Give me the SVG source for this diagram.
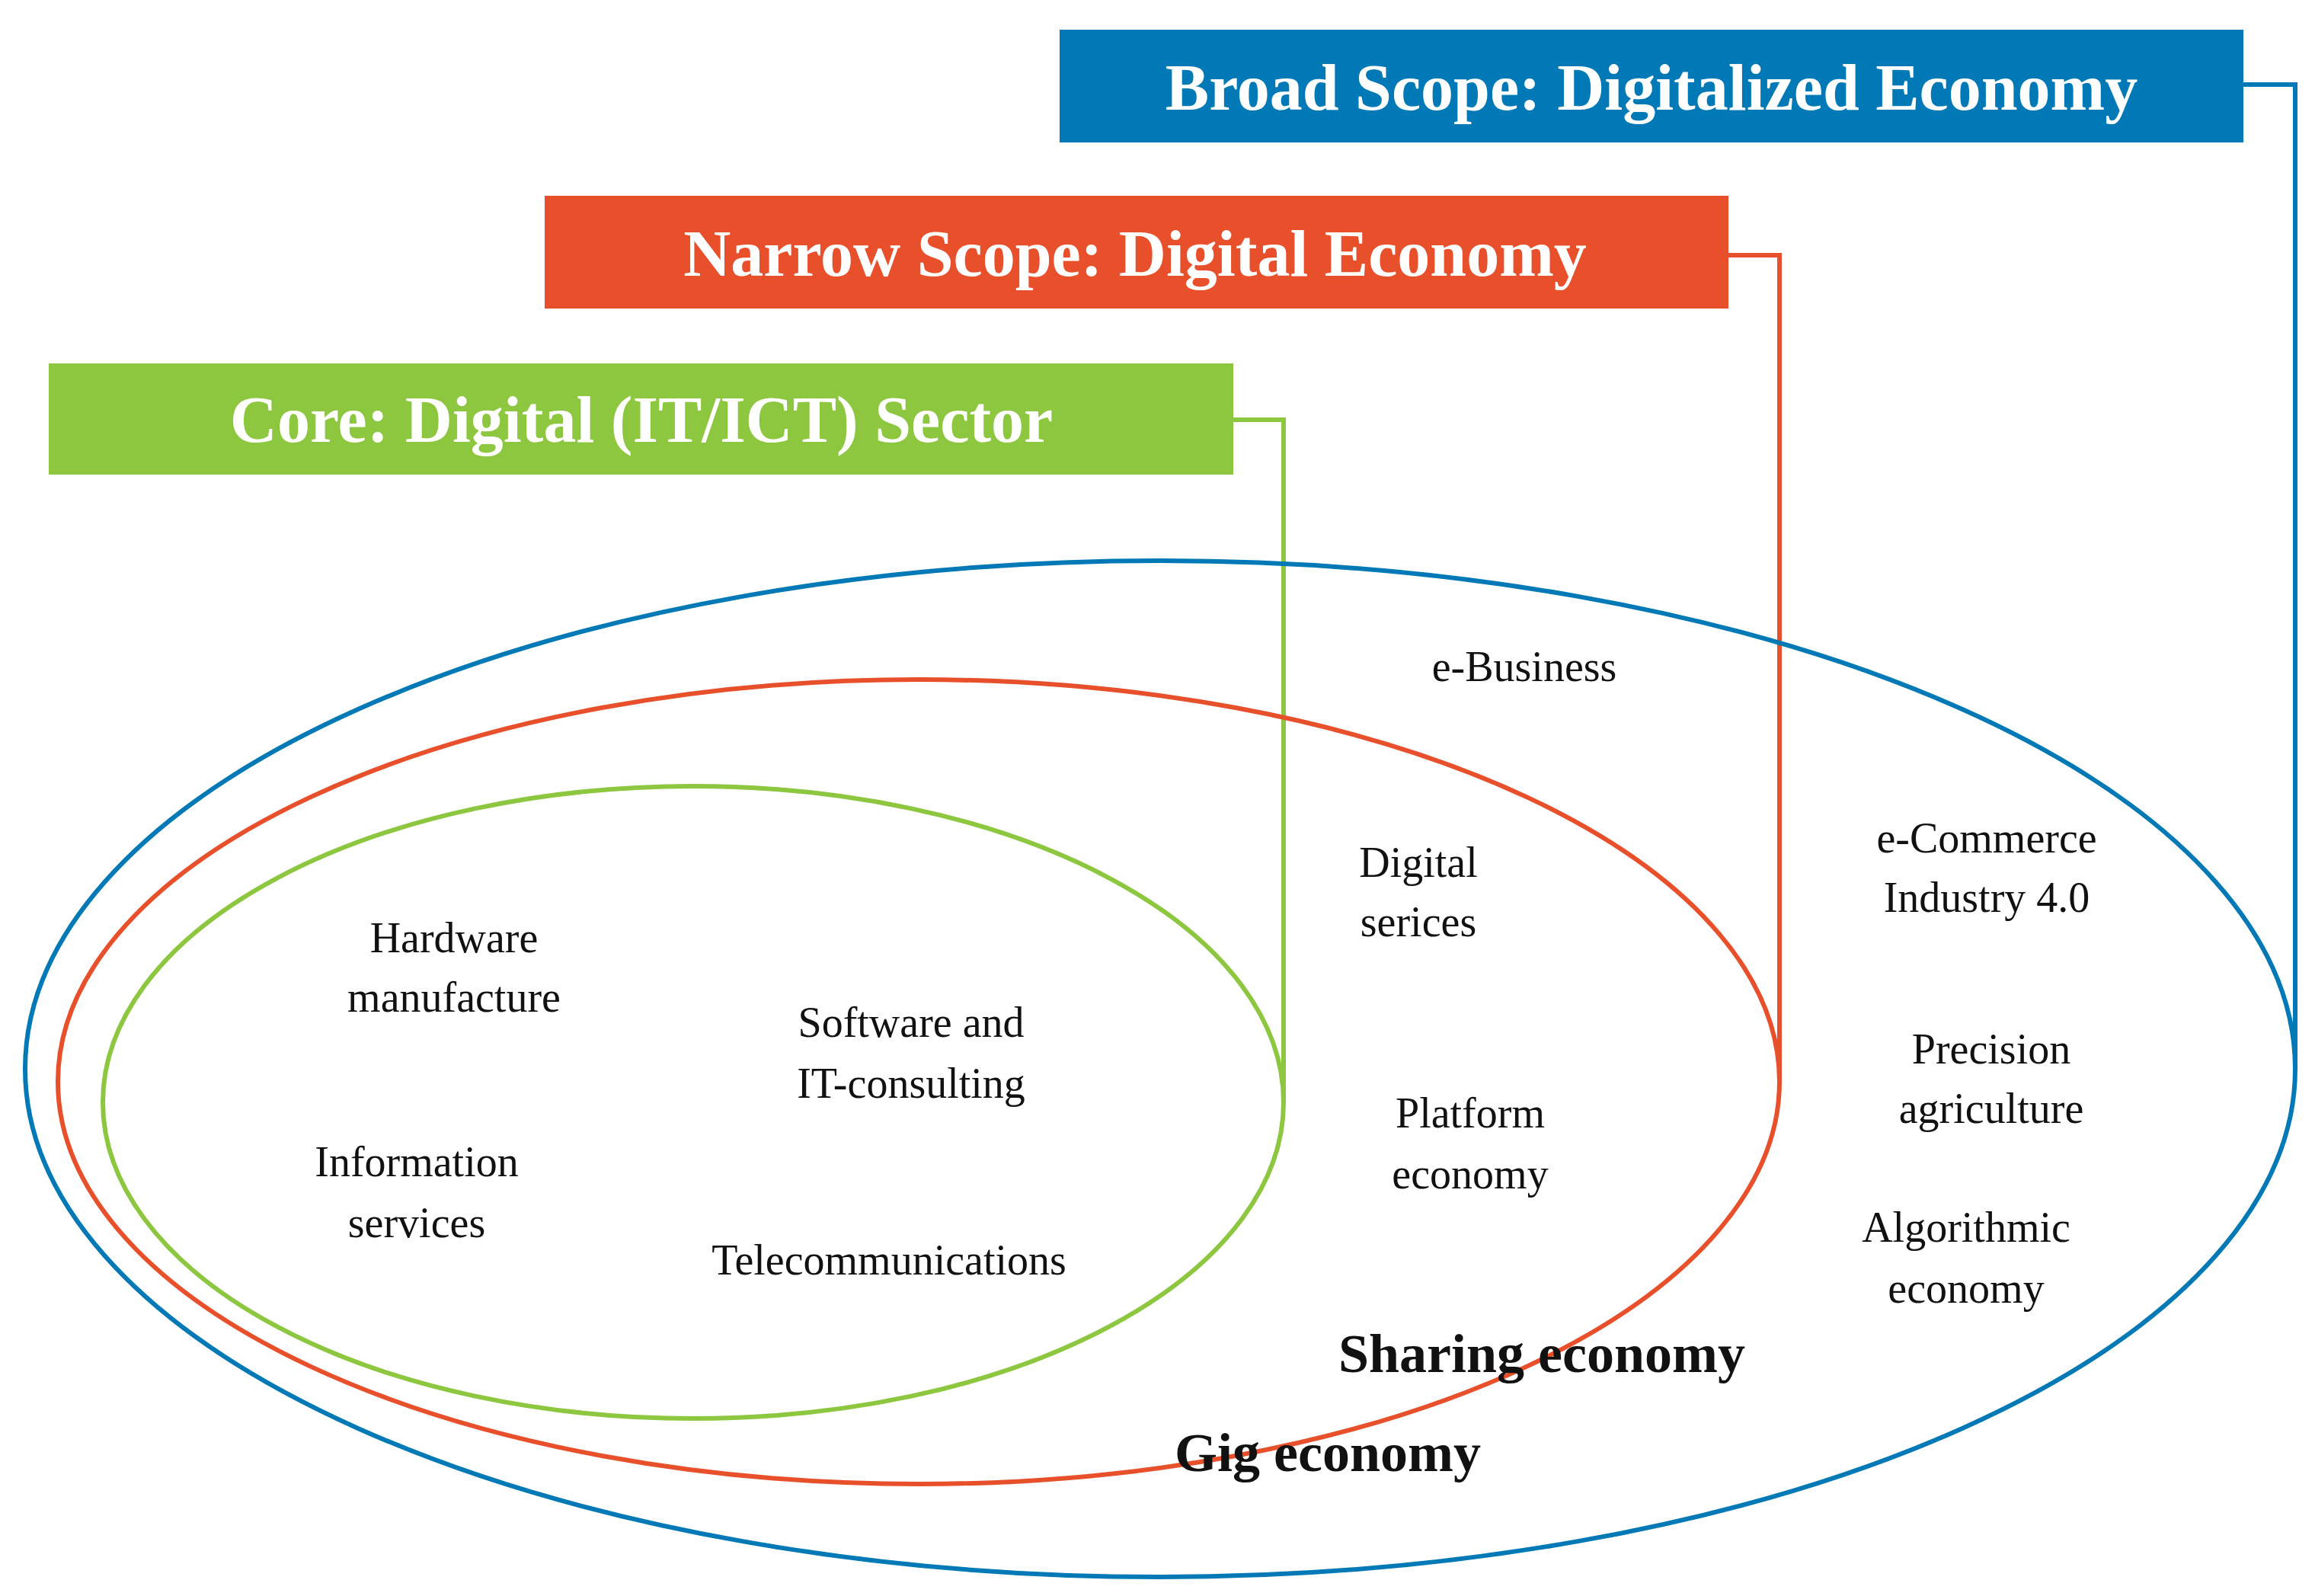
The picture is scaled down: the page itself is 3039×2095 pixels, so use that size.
<svg xmlns="http://www.w3.org/2000/svg" width="3039" height="2095" viewBox="0 0 3039 2095">
<style>
.t{font-family:"Liberation Serif","DejaVu Serif",serif;font-size:56px;fill:#111;text-anchor:middle;dominant-baseline:central}
.b{font-family:"Liberation Serif","DejaVu Serif",serif;font-size:72px;font-weight:bold;fill:#111;text-anchor:middle;dominant-baseline:central}
.h{font-family:"Liberation Serif","DejaVu Serif",serif;font-size:86px;font-weight:bold;fill:#fff;text-anchor:middle;dominant-baseline:central}
.l{fill:none;stroke-width:6}
</style>
<rect width="3039" height="2095" fill="#fff"/>
<g id="connectors">
<polyline class="l" stroke="#0079b6" points="2945,111 3013,111 3013,1403"/>
<polyline class="l" stroke="#e8502b" points="2269,335 2336,335 2336,1418"/>
<polyline class="l" stroke="#8dc63f" points="1619,551 1685,551 1685,1445"/>
</g>
<g id="broad">
<ellipse class="l" stroke="#0079b6" cx="1523" cy="1403" rx="1490" ry="667"/>
<rect x="1391" y="39" width="1554" height="148" fill="#0079b6"/>
<text class="h" x="2168" y="115">Broad Scope: Digitalized Economy</text>
</g>
<g id="narrow">
<ellipse class="l" stroke="#e8502b" cx="1206" cy="1420" rx="1130" ry="528"/>
<rect x="715" y="257" width="1554" height="148" fill="#e8502b"/>
<text class="h" x="1490" y="333">Narrow Scope: Digital Economy</text>
</g>
<g id="core">
<ellipse class="l" stroke="#8dc63f" cx="910" cy="1447" rx="775" ry="415"/>
<rect x="64" y="477" width="1555" height="146" fill="#8dc63f"/>
<text class="h" x="842" y="551">Core: Digital (IT/ICT) Sector</text>
</g>
<g id="labels">
<text class="t" x="2001" y="875">e-Business</text>
<text class="t" x="1862" y="1132">Digital</text>
<text class="t" x="1862" y="1210">serices</text>
<text class="t" x="2608" y="1100">e-Commerce</text>
<text class="t" x="2608" y="1178">Industry 4.0</text>
<text class="t" x="596" y="1231">Hardware</text>
<text class="t" x="596" y="1309">manufacture</text>
<text class="t" x="1196" y="1342">Software and</text>
<text class="t" x="1196" y="1422">IT-consulting</text>
<text class="t" x="2614" y="1377">Precision</text>
<text class="t" x="2614" y="1455">agriculture</text>
<text class="t" x="1930" y="1461">Platform</text>
<text class="t" x="1930" y="1541">economy</text>
<text class="t" x="547" y="1525">Information</text>
<text class="t" x="547" y="1605">services</text>
<text class="t" x="2581" y="1611">Algorithmic</text>
<text class="t" x="2581" y="1691">economy</text>
<text class="t" x="1167" y="1654">Telecommunications</text>
<text class="b" x="2024" y="1777">Sharing economy</text>
<text class="b" x="1743" y="1907">Gig economy</text>
</g>
</svg>
